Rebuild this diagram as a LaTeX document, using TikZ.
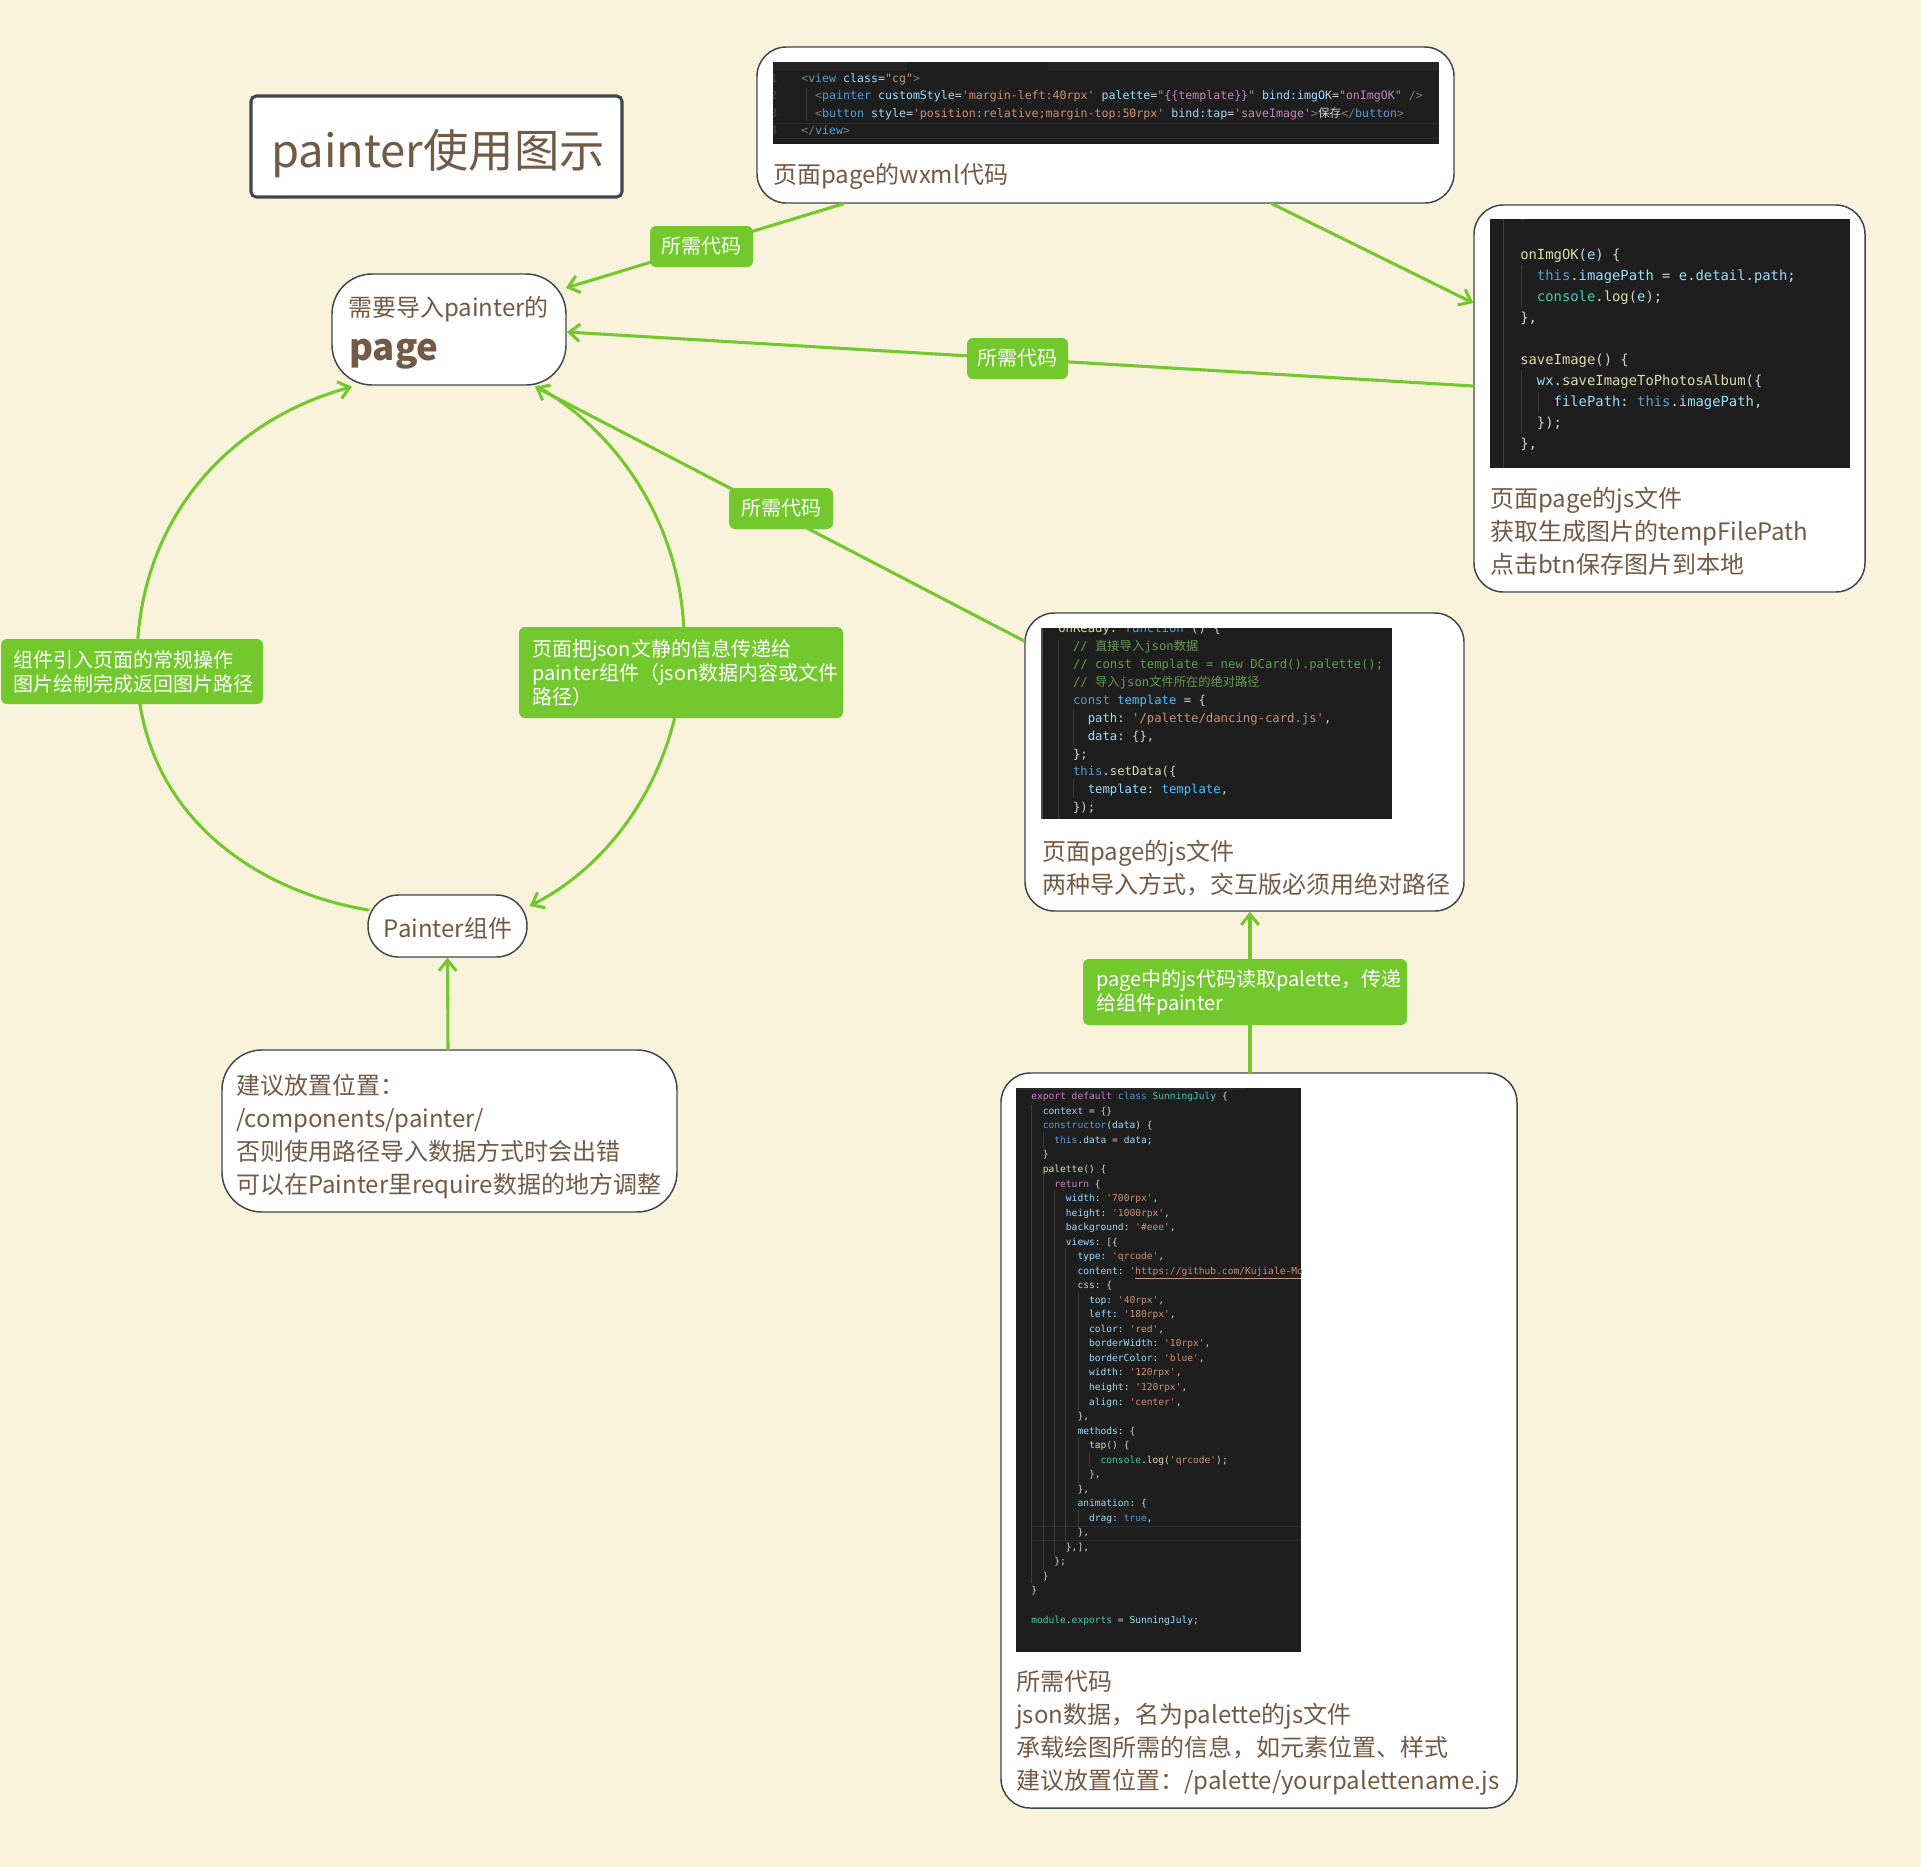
\documentclass[tikz,border=0pt]{standalone}
\usepackage{fontspec}
\usetikzlibrary{arrows.meta,calc}
\newfontfamily\cjk{Noto Sans CJK SC}
\newfontfamily\codefont{DejaVu Sans Mono}
\definecolor{bgc}{HTML}{FAF3DC}
\definecolor{grn}{HTML}{72C82C}
\definecolor{brn}{HTML}{735A45}
\definecolor{bdr}{HTML}{3D464D}
\definecolor{cbg}{HTML}{1E1E1E}
\definecolor{ctab}{HTML}{252526}
\definecolor{chl}{HTML}{2C2C2C}
\definecolor{cbar}{HTML}{4A4A4A}
\definecolor{ctop}{HTML}{2A2A2A}
\definecolor{cguide}{HTML}{3C3C3C}
\definecolor{cw}{HTML}{D4D4D4}
\definecolor{cg}{HTML}{808080}
\definecolor{ct}{HTML}{569CD6}
\definecolor{ca}{HTML}{9CDCFE}
\definecolor{cs}{HTML}{CE9178}
\definecolor{cp}{HTML}{C586C0}
\definecolor{cf}{HTML}{DCDCAA}
\definecolor{ce}{HTML}{4EC9B0}
\definecolor{cc}{HTML}{6A9955}
\definecolor{cb}{HTML}{4FC1FF}
\definecolor{cn}{HTML}{4A4A4A}
\newcommand\xW[1]{\textcolor{cw}{#1}}
\newcommand\xG[1]{\textcolor{cg}{#1}}
\newcommand\xT[1]{\textcolor{ct}{#1}}
\newcommand\xA[1]{\textcolor{ca}{#1}}
\newcommand\xS[1]{\textcolor{cs}{#1}}
\newcommand\xP[1]{\textcolor{cp}{#1}}
\newcommand\xF[1]{\textcolor{cf}{#1}}
\newcommand\xE[1]{\textcolor{ce}{#1}}
\newcommand\xC[1]{\textcolor{cc}{#1}}
\newcommand\xB[1]{\textcolor{cb}{#1}}
\newcommand\ind[1]{\hspace*{#1\fontcharwd\font`0}}
\tikzset{
  x=0.75pt, y=-0.75pt,
  conn/.style={draw=grn, line width=2.3pt, line cap=round,
    -{Straight Barb[length=8pt,width=13pt]}},
  wbox/.style={draw=bdr, line width=1.1pt, fill=white, rounded corners=22pt, inner sep=0pt},
  glabel/.style={fill=grn, rounded corners=4.5pt, text=white,
    font=\cjk\fontsize{15pt}{18pt}\selectfont, inner sep=0pt},
  mlabel/.style={glabel, align=left, inner ysep=0pt},
  btxt/.style={text=brn, font=\cjk\fontsize{18pt}{24.75pt}\selectfont,
    align=left, inner sep=0pt, anchor=base west},
  codebase/.style={align=left, inner sep=0pt, anchor=base west, text=cw},
  codew/.style={codebase, font=\codefont\fontsize{8.7pt}{13.1pt}\selectfont\frenchspacing},
  codej/.style={codebase, font=\codefont\fontsize{10.4pt}{15.75pt}\selectfont\frenchspacing},
  coder/.style={codebase, font=\codefont\fontsize{9.2pt}{13.4pt}\selectfont\frenchspacing},
  codep/.style={codebase, font=\codefont\fontsize{7.2pt}{10.9pt}\selectfont\frenchspacing},
  guide/.style={draw=cguide, line width=0.75pt},
}
\begin{document}
\begin{tikzpicture}
\fill[bgc] (0,0) rectangle (1921,1867);
\useasboundingbox (0,0) rectangle (1921,1867);

% ---------- boxes ----------
\node[draw=bdr, line width=2.3pt, fill=white, rounded corners=4pt,
  minimum width=278.25pt, minimum height=75.75pt] (title) at (436.5,146.5) {};
\node[text=brn, font=\cjk\fontsize{34pt}{38pt}\selectfont, anchor=base, inner sep=0pt]
  (titletxt) at (438,167) {painter使用图示};

\node[wbox, minimum width=522.75pt, minimum height=117pt] (wxml) at (1105.5,125) {};
\node[wbox, minimum width=293.25pt, minimum height=290.25pt] (js) at (1669.5,398.5) {};
\node[wbox, minimum width=329.25pt, minimum height=223.5pt] (onready) at (1244.5,762) {};
\node[wbox, minimum width=387pt, minimum height=551.25pt] (palette) at (1259,1440.5) {};
\node[wbox, rounded corners=30pt, minimum width=175.5pt, minimum height=83.25pt] (page) at (449,329.5) {};
\node[wbox, rounded corners=23pt, minimum width=119.25pt, minimum height=46.5pt] (painter) at (447.5,926) {};
\node[wbox, rounded corners=30pt, minimum width=341.25pt, minimum height=121.5pt] (suggest) at (449.5,1131) {};

% ---------- code image: wxml ----------
\begin{scope}
\clip (773,62) rectangle (1439,144);
\fill[cbg] (773,62) rectangle (1439,144);
\fill[ctab] (773,62) rectangle (1439,71);
\fill[cbg] (907,62) rectangle (1048,71);
\draw[guide] (806,88) -- (806,121);
\draw[chl, line width=0.75pt] (773,123) -- (1439,123) (773,138) -- (1439,138);
\node[codew, text=cn] (wnum) at (770,134.5) {1\\2\\3\\4};
\node[codew] (wcode) at (801,134.5) {%
\xG{<}\xT{view} \xA{class}\xW{=}\xS{"cg"}\xG{>}\\
\ind2\xG{<}\xT{painter} \xA{customStyle}\xW{=}\xS{'margin-left:40rpx'} \xA{palette}\xW{=}\xS{"}\xP{\{\{template\}\}}\xS{"} \xA{bind:imgOK}\xW{=}\xS{"}\xP{onImgOK}\xS{"} \xG{/>}\\
\ind2\xG{<}\xT{button} \xA{style}\xW{=}\xS{'position:relative;margin-top:50rpx'} \xA{bind:tap}\xW{=}\xS{'}\xP{saveImage}\xS{'}\xG{>}\xW{\cjk 保存}\xG{</}\xT{button}\xG{>}\\
\xG{</}\xT{view}\xG{>}};
\end{scope}
\node[btxt] (wxmltxt) at (773,183) {页面page的wxml代码};

% ---------- code image: js ----------
\begin{scope}
\clip (1490,219) rectangle (1850,468);
\fill[cbg] (1490,219) rectangle (1850,468);
\draw[guide] (1503,219) -- (1503,468);
\draw[guide] (1521,265) -- (1521,308);
\draw[guide] (1521,370) -- (1521,433);
\draw[guide] (1538,392) -- (1538,412);
\node[codej] (jcode) at (1520,448) {%
\xW{\},}\\
\mbox{}\\
\xF{onImgOK}\xW{(}\xA{e}\xW{) \{}\\
\ind2\xT{this}\xW{.}\xA{imagePath} \xW{=} \xA{e}\xW{.}\xA{detail}\xW{.}\xA{path}\xW{;}\\
\ind2\xE{console}\xW{.}\xF{log}\xW{(}\xA{e}\xW{);}\\
\xW{\},}\\
\mbox{}\\
\xF{saveImage}\xW{() \{}\\
\ind2\xA{wx}\xW{.}\xF{saveImageToPhotosAlbum}\xW{(\{}\\
\ind4\xA{filePath}\xW{:} \xT{this}\xW{.}\xA{imagePath}\xW{,}\\
\ind2\xW{\});}\\
\xW{\},}};
\end{scope}
\node[btxt] (jstxt) at (1490,573) {页面page的js文件\\获取生成图片的tempFilePath\\点击btn保存图片到本地};

% ---------- code image: onReady ----------
\begin{scope}
\clip (1041,628) rectangle (1392,819);
\fill[cbg] (1041,628) rectangle (1392,819);
\draw[cbar, line width=1.5pt] (1042,628) -- (1042,819);
\draw[guide] (1058,640) -- (1058,819);
\draw[guide] (1073,708) -- (1073,745);
\draw[guide] (1073,779) -- (1073,798);
\node[coder] (rcode) at (1058,811.6) {%
\xF{onReady}\xW{:} \xT{function} \xW{() \{}\\
\ind2\xC{// {\cjk 直接导入}json{\cjk 数据}}\\
\ind2\xC{// const template = new DCard().palette();}\\
\ind2\xC{// {\cjk 导入}json{\cjk 文件所在的绝对路径}}\\
\ind2\xT{const} \xB{template} \xW{= \{}\\
\ind4\xA{path}\xW{:} \xS{'/palette/dancing-card.js'}\xW{,}\\
\ind4\xA{data}\xW{: \{\},}\\
\ind2\xW{\};}\\
\ind2\xT{this}\xW{.}\xF{setData}\xW{(\{}\\
\ind4\xA{template}\xW{:} \xB{template}\xW{,}\\
\ind2\xW{\});}};
\end{scope}
\node[btxt] (rtxt) at (1042,893) {页面page的js文件\\两种导入方式，交互版必须用绝对路径};

% ---------- code image: palette ----------
\begin{scope}
\clip (1016,1088) rectangle (1301,1652);
\fill[cbg] (1016,1088) rectangle (1301,1652);
\fill[ctop] (1016,1088) rectangle (1245,1090);
\draw[chl, line width=0.75pt] (1031,1526) -- (1301,1526) (1031,1540) -- (1301,1540);
\draw[guide] (1031,1105) -- (1031,1583);
\draw[guide] (1043,1133) -- (1043,1148);
\draw[guide] (1043,1176) -- (1043,1570);
\draw[guide] (1054,1190) -- (1054,1556);
\draw[guide] (1065,1248) -- (1065,1541);
\draw[guide] (1078,1292) -- (1078,1411);
\draw[guide] (1078,1438) -- (1078,1483);
\draw[guide] (1078,1510) -- (1078,1527);
\draw[guide] (1089,1452) -- (1089,1468);
\node[codep] (pcode) at (1031,1623) {%
\xP{export} \xP{default} \xT{class} \xE{SunningJuly} \xW{\{}\\
\ind2\xA{context} \xW{= \{\}}\\
\ind2\xT{constructor}\xW{(}\xA{data}\xW{) \{}\\
\ind4\xT{this}\xW{.}\xA{data} \xW{=} \xA{data}\xW{;}\\
\ind2\xW{\}}\\
\ind2\xF{palette}\xW{() \{}\\
\ind4\xP{return} \xW{\{}\\
\ind6\xA{width}\xW{:} \xS{'700rpx'}\xW{,}\\
\ind6\xA{height}\xW{:} \xS{'1000rpx'}\xW{,}\\
\ind6\xA{background}\xW{:} \xS{'\#eee'}\xW{,}\\
\ind6\xA{views}\xW{: [\{}\\
\ind8\xA{type}\xW{:} \xS{'qrcode'}\xW{,}\\
\ind8\xA{content}\xW{:} \xS{'\underline{https://github.com/Kujiale-Mobile/Painter}'}\xW{,}\\
\ind8\xA{css}\xW{: \{}\\
\ind{10}\xA{top}\xW{:} \xS{'40rpx'}\xW{,}\\
\ind{10}\xA{left}\xW{:} \xS{'180rpx'}\xW{,}\\
\ind{10}\xA{color}\xW{:} \xS{'red'}\xW{,}\\
\ind{10}\xA{borderWidth}\xW{:} \xS{'10rpx'}\xW{,}\\
\ind{10}\xA{borderColor}\xW{:} \xS{'blue'}\xW{,}\\
\ind{10}\xA{width}\xW{:} \xS{'120rpx'}\xW{,}\\
\ind{10}\xA{height}\xW{:} \xS{'120rpx'}\xW{,}\\
\ind{10}\xA{align}\xW{:} \xS{'center'}\xW{,}\\
\ind8\xW{\},}\\
\ind8\xA{methods}\xW{: \{}\\
\ind{10}\xF{tap}\xW{() \{}\\
\ind{12}\xE{console}\xW{.}\xF{log}\xW{(}\xS{'qrcode'}\xW{);}\\
\ind{10}\xW{\},}\\
\ind8\xW{\},}\\
\ind8\xA{animation}\xW{: \{}\\
\ind{10}\xA{drag}\xW{:} \xT{true}\xW{,}\\
\ind8\xW{\},}\\
\ind6\xW{\},],}\\
\ind4\xW{\};}\\
\ind2\xW{\}}\\
\xW{\}}\\
\mbox{}\\
\xE{module}\xW{.}\xE{exports} \xW{=} \xA{SunningJuly}\xW{;}};
\end{scope}
\node[btxt] (ptxt) at (1016,1789) {所需代码\\json数据，名为palette的js文件\\承载绘图所需的信息，如元素位置、样式\\建议放置位置：/palette/yourpalettename.js};

% ---------- small node texts ----------
\node[btxt] (pagetxt1) at (348,316) {需要导入painter的};
\node[btxt, font=\cjk\bfseries\fontsize{27.5pt}{30pt}\selectfont] (pagetxt2) at (349,360) {page};
\node[btxt, anchor=base] (paintertxt) at (448,937) {Painter组件};
\node[btxt] (suggesttxt) at (236,1193) {建议放置位置：\\/components/painter/\\否则使用路径导入数据方式时会出错\\可以在Painter里require数据的地方调整};

% ---------- connectors ----------
\draw[conn] ($(wxml.south)+(-262,0)$) -- ($(page.east)+(-1,-41.5)$);
\draw[conn] ($(wxml.south)+(166.5,0)$) -- ($(js.west)+(0,-95.5)$);
\draw[conn] ($(js.west)+(0,-12.5)$) -- ($(page.east)+(0,2.5)$);
\draw[conn] ($(onready.west)+(0,-121)$) -- ($(page.south)+(86,1)$);
\draw[conn] ($(painter.west)+(1,-16)$) .. controls (250,890) and (140,810) .. (137,670)
  .. controls (134,520) and (230,420) .. ($(page.south)+(-97,1)$);
\draw[conn] ($(page.south)+(89,1)$) .. controls (630,440) and (684,540) .. (684,640)
  .. controls (684,760) and (620,860) .. ($(painter.east)+(2,-20)$);
\draw[conn] ($(palette.north)+(-9,0)$) -- ($(onready.south)+(5.5,0)$);
\draw[conn] ($(suggest.north)+(-1.5,0)$) -- (painter.south);

% ---------- green labels ----------
\node[glabel, minimum width=77.25pt, minimum height=30.75pt] (l1) at (701.5,246.5) {所需代码};
\node[glabel, minimum width=75.75pt, minimum height=30.75pt] (l2) at (1017.5,358.5) {所需代码};
\node[glabel, minimum width=78pt, minimum height=30.75pt] (l3) at (781,508.5) {所需代码};
\node[mlabel, inner xsep=9pt, text width=178.5pt, minimum height=48.75pt] (l4) at (132,671.5)
  {组件引入页面的常规操作\\图片绘制完成返回图片路径};
\node[mlabel, inner xsep=9.75pt, text width=223.5pt, minimum height=68.25pt] (l5) at (681,672.5)
  {页面把json文静的信息传递给\\painter组件（json数据内容或文件\\路径）};
\node[mlabel, inner xsep=9.75pt, text width=223.5pt, minimum height=49.5pt] (l6) at (1245,992)
  {page中的js代码读取palette，传递\\给组件painter};
\end{tikzpicture}
\end{document}
